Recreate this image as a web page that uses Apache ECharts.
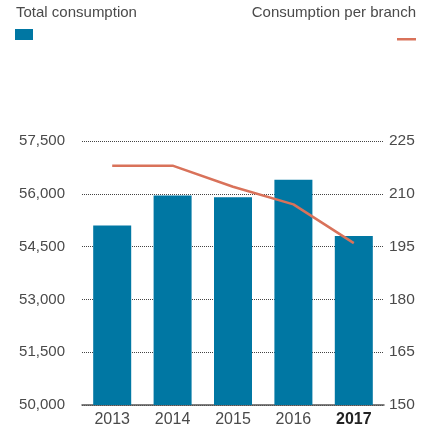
<!DOCTYPE html>
<html>
<head>
<meta charset="utf-8">
<script src="https://cdn.jsdelivr.net/npm/echarts@6/dist/echarts.min.js"></script>
<style>
  html, body { margin: 0; padding: 0; background: #fff; }
  #chart { width: 432px; height: 428px; }
</style>
</head>
<body>
<div id="chart"></div>
<script>
// Yearly energy use: total (bars, left axis) and per branch (line, right axis)
const years = ['2013', '2014', '2015', '2016', '2017'];
const totalConsumption = [55100, 55950, 55900, 56400, 54800];
const perBranch = [218, 218, 212, 207, 196];
const leftTicks = { min: 50000, max: 57500, interval: 1500 };
const rightTicks = { min: 150, max: 225, interval: 15 };

const FONT = '"Liberation Sans", Helvetica, Arial, sans-serif';
const TEXT = '#4a4a4a';
const BLUE = '#0077a3';
const ORANGE = '#d9725a';

const chart = echarts.init(document.getElementById('chart'), null, { renderer: 'canvas' });

chart.setOption({
  animation: false,
  textStyle: { fontFamily: FONT },
  grid: { left: 82, right: 48, top: 141, bottom: 23, containLabel: false },
  graphic: [
    { type: 'text', left: 16, top: 5, style: { text: 'Total consumption', fill: TEXT, font: '15px ' + FONT } },
    { type: 'rect', left: 15, top: 29, shape: { width: 18, height: 11 }, style: { fill: BLUE } },
    { type: 'text', right: 16, top: 5, style: { text: 'Consumption per branch', fill: TEXT, font: '15px ' + FONT } },
    { type: 'rect', right: 16, top: 38, shape: { width: 19, height: 2.5 }, style: { fill: ORANGE } }
  ],
  xAxis: {
    type: 'category',
    data: years,
    axisLine: { lineStyle: { color: '#555', width: 1.5 } },
    axisTick: { show: false },
    axisLabel: {
      interval: 0,
      margin: 7,
      fontSize: 16,
      color: TEXT,
      formatter: (v) => v === '2017' ? '{b|' + v + '}' : v,
      rich: { b: { fontWeight: 'bold', color: '#222', fontSize: 16, fontFamily: FONT } }
    }
  },
  yAxis: [
    {
      type: 'value',
      min: leftTicks.min, max: leftTicks.max, interval: leftTicks.interval,
      axisLine: { show: false },
      axisTick: { show: false },
      axisLabel: {
        margin: 17, fontSize: 15, color: TEXT,
        formatter: (v) => v.toLocaleString('en-US')
      },
      splitLine: { lineStyle: { type: [1, 1], color: '#444', width: 1 } }
    },
    {
      type: 'value',
      min: rightTicks.min, max: rightTicks.max, interval: rightTicks.interval,
      axisLine: { show: false },
      axisTick: { show: false },
      axisLabel: { margin: 5, fontSize: 15.5, color: TEXT },
      splitLine: { show: false }
    }
  ],
  series: [
    {
      name: 'Total consumption',
      type: 'bar',
      yAxisIndex: 0,
      data: totalConsumption,
      barWidth: 38,
      itemStyle: { color: BLUE }
    },
    {
      name: 'Consumption per branch',
      type: 'line',
      yAxisIndex: 1,
      data: perBranch,
      symbol: 'none',
      z: 5,
      lineStyle: { color: ORANGE, width: 2.5 }
    }
  ]
});
</script>
</body>
</html>
